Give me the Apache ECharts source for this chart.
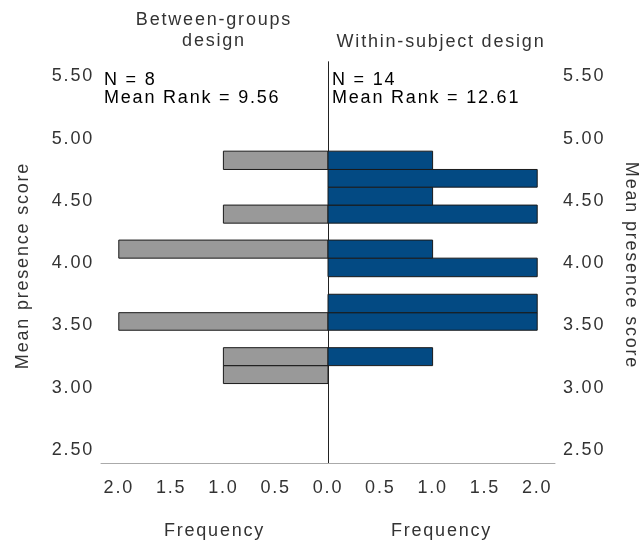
<!DOCTYPE html>
<html>
<head>
<meta charset="utf-8">
<script src="https://cdn.jsdelivr.net/npm/echarts@6/dist/echarts.min.js"></script>
<style>
  html, body { margin: 0; padding: 0; background: #fff; }
  #chart { width: 644px; height: 545px; }
</style>
</head>
<body>
<div id="chart"></div>
<script>
// Histogram bin edges (mean presence score) shared by both groups
const binEdges = [3.018, 3.162, 3.306, 3.446, 3.587, 3.735, 3.876, 4.025, 4.170, 4.306, 4.451, 4.595, 4.737, 4.884];
// Frequencies per bin, bottom to top
const betweenCounts = [1, 1, 0, 2, 0, 0, 0, 2, 0, 1, 0, 0, 1];
const withinCounts  = [0, 1, 0, 2, 2, 0, 2, 1, 0, 2, 1, 2, 1];
// Axis tick labels
const scoreTicks = [2.5, 3.0, 3.5, 4.0, 4.5, 5.0, 5.5];
const freqTicksLeft = [0.5, 1.0, 1.5, 2.0];
const freqTicksRight = [0.0, 0.5, 1.0, 1.5, 2.0];
// Panel titles and group statistics
const groupTitles = ['Between-groups\ndesign', 'Within-subject design'];
const groupStats = ['N = 8\nMean Rank = 9.56', 'N = 14\nMean Rank = 12.61'];

// Slightly tracked-out text: apply letter spacing whenever a canvas font is set
(function () {
  const proto = CanvasRenderingContext2D.prototype;
  const desc = Object.getOwnPropertyDescriptor(proto, 'font');
  if (desc && 'letterSpacing' in proto) {
    Object.defineProperty(proto, 'font', {
      configurable: true,
      get() { return desc.get.call(this); },
      set(v) { desc.set.call(this, v); this.letterSpacing = '1.8px'; }
    });
  }
})();

const FONT = 'Liberation Sans, Arial, sans-serif';
const FS = 18;
const TXT = '#333';

function toBins(counts) {
  const out = [];
  counts.forEach((c, i) => {
    if (c > 0) out.push([binEdges[i], binEdges[i + 1], c]);
  });
  return out;
}

function renderBin(fill) {
  return function (params, api) {
    const lo = api.value(0), hi = api.value(1), cnt = api.value(2);
    const a = api.coord([0, lo]);
    const b = api.coord([cnt, hi]);
    const x = Math.min(a[0], b[0]), y = Math.min(a[1], b[1]);
    return {
      type: 'rect',
      shape: { x: x, y: y, width: Math.abs(b[0] - a[0]), height: Math.abs(b[1] - a[1]) },
      style: { fill: fill, stroke: '#1a1a1a', lineWidth: 1 }
    };
  };
}

const yBase = {
  type: 'value', min: 2.38, max: 5.6,
  splitLine: { show: false },
  axisTick: { show: false },
  nameLocation: 'middle'
};

// Score labels sit a touch below their tick value
const scoreLabel = (margin) => ({
  customValues: scoreTicks, margin: margin,
  verticalAlign: 'top', lineHeight: 4,
  fontFamily: FONT, fontSize: FS, color: TXT,
  formatter: v => v.toFixed(2)
});

const freqAxis = (grid, inverse, ticks) => ({
  type: 'value', gridIndex: grid, min: 0, max: 2.17, inverse: inverse,
  splitLine: { show: false },
  axisTick: { show: false },
  axisLine: { show: true, lineStyle: { color: '#aaa', width: 1 } },
  axisLabel: {
    customValues: ticks, margin: 15,
    fontFamily: FONT, fontSize: FS, color: TXT,
    formatter: v => v.toFixed(1)
  },
  name: 'Frequency', nameLocation: 'middle', nameGap: 58,
  nameTextStyle: { fontFamily: FONT, fontSize: FS, color: TXT }
});

const chart = echarts.init(document.getElementById('chart'), null, { renderer: 'canvas' });
chart.setOption({
  animation: false,
  backgroundColor: '#fff',
  grid: [
    { left: 101, top: 62, width: 227, height: 401, outerBoundsMode: 'none', containLabel: false },
    { left: 328, top: 62, width: 227, height: 401, outerBoundsMode: 'none', containLabel: false }
  ],
  xAxis: [
    freqAxis(0, true, freqTicksLeft),
    freqAxis(1, false, freqTicksRight)
  ],
  yAxis: [
    Object.assign({}, yBase, {
      gridIndex: 0, position: 'left',
      axisLine: { show: true, lineStyle: { color: '#555', width: 1 } },
      axisLabel: scoreLabel(7),
      name: 'Mean presence score', nameGap: 68, nameRotate: 90,
      nameTextStyle: { fontFamily: FONT, fontSize: FS, color: TXT, padding: [0, 6, 0, 0] }
    }),
    Object.assign({}, yBase, {
      gridIndex: 1, position: 'right',
      axisLine: { show: true, lineStyle: { color: '#777', width: 1 } },
      axisLabel: scoreLabel(8),
      name: 'Mean presence score', nameGap: 66, nameRotate: -90,
      nameTextStyle: { fontFamily: FONT, fontSize: FS, color: TXT, padding: [0, 0, 0, 6] }
    }),
    Object.assign({}, yBase, {
      gridIndex: 1, position: 'left',
      axisLine: { show: true, lineStyle: { color: '#222', width: 1 } },
      axisLabel: { show: false }
    })
  ],
  series: [
    {
      type: 'custom', xAxisIndex: 0, yAxisIndex: 0,
      renderItem: renderBin('#999999'),
      encode: { x: 2, y: [0, 1] },
      data: toBins(betweenCounts)
    },
    {
      type: 'custom', xAxisIndex: 1, yAxisIndex: 1,
      renderItem: renderBin('#034a83'),
      encode: { x: 2, y: [0, 1] },
      data: toBins(withinCounts)
    }
  ],
  graphic: [
    { type: 'text', x: 214, y: 10, style: { text: groupTitles[0], textAlign: 'center', fontFamily: FONT, fontSize: FS, lineHeight: 21, fill: TXT } },
    { type: 'text', x: 441, y: 32, style: { text: groupTitles[1], textAlign: 'center', fontFamily: FONT, fontSize: FS, lineHeight: 21, fill: TXT } },
    { type: 'text', x: 104, y: 71, style: { text: groupStats[0], fontFamily: FONT, fontSize: FS, lineHeight: 18, fill: '#000' } },
    { type: 'text', x: 332, y: 71, style: { text: groupStats[1], fontFamily: FONT, fontSize: FS, lineHeight: 18, fill: '#000' } }
  ]
});
</script>
</body>
</html>
